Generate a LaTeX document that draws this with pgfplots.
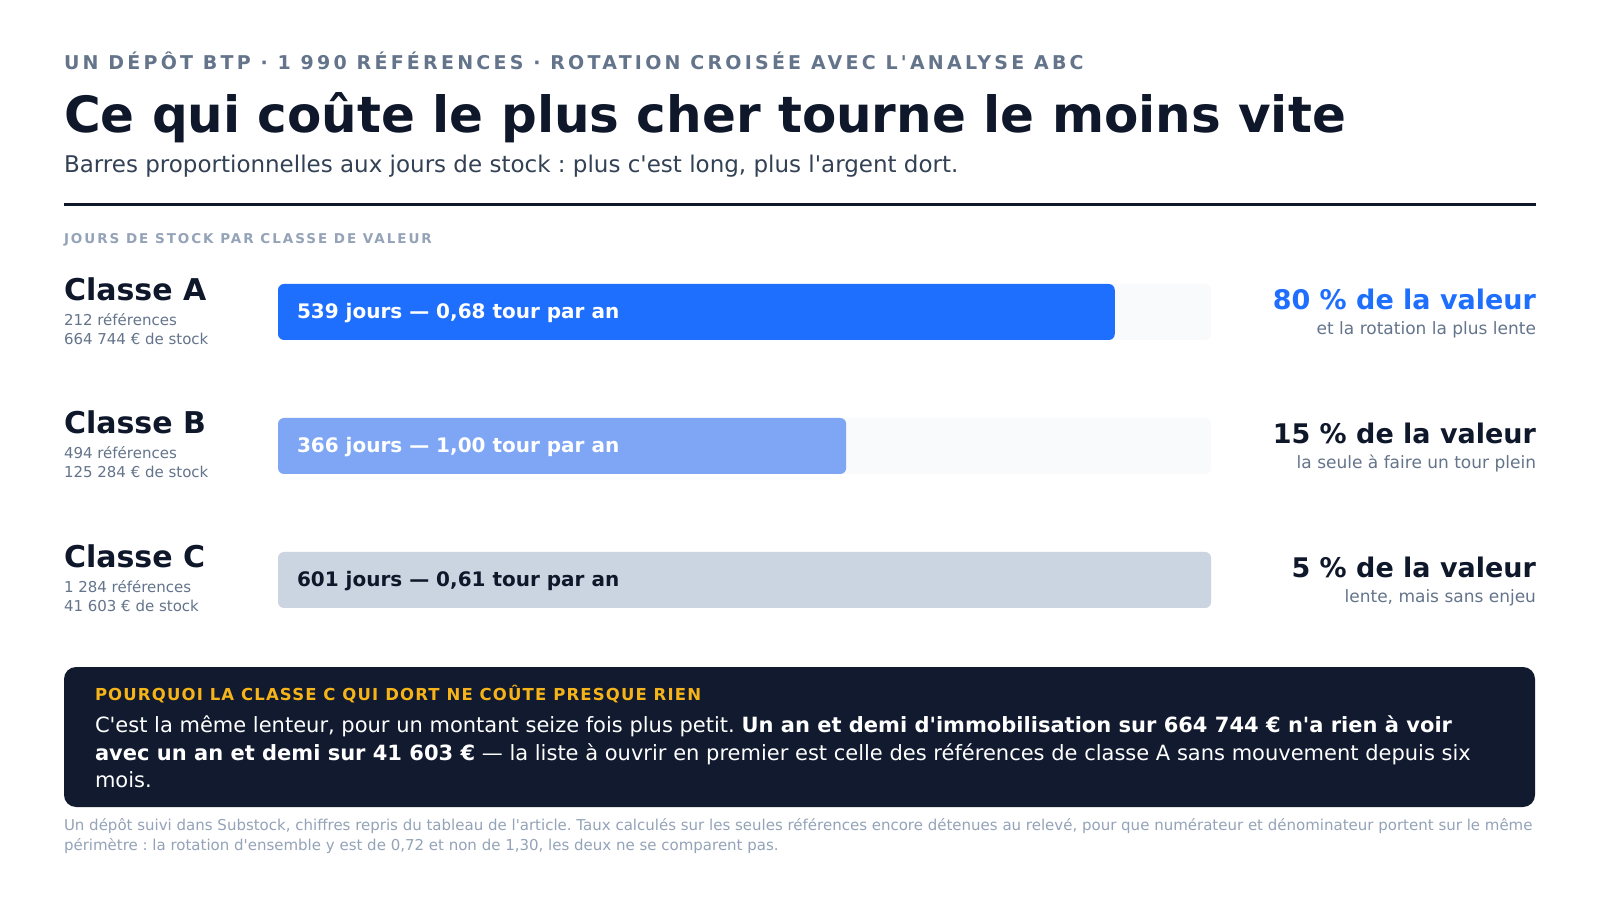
\documentclass[border=0pt]{standalone}
\usepackage{fontspec}
\setmainfont{DejaVu Sans}[Ligatures=TeXOff]
\newfontfamily\kickerfont{DejaVu Sans}[LetterSpace=17,Ligatures=TeXOff]
\newfontfamily\sectfont{DejaVu Sans}[LetterSpace=14.5,Ligatures=TeXOff]
\newfontfamily\boxheadfont{DejaVu Sans}[LetterSpace=7,Ligatures=TeXOff]
\usepackage{pgfplots}
\pgfplotsset{compat=1.18}
\definecolor{ink}{HTML}{0F172A}
\definecolor{slatefive}{HTML}{64748B}
\definecolor{slateseven}{HTML}{334155}
\definecolor{slatefour}{HTML}{94A3B8}
\definecolor{barA}{HTML}{1F6FFF}
\definecolor{barB}{HTML}{7EA6F4}
\definecolor{barC}{HTML}{CBD5E1}
\definecolor{track}{HTML}{F8FAFC}
\definecolor{boxbg}{HTML}{111A2E}
\definecolor{amber}{HTML}{F7B419}
\newcommand{\fs}[1]{\fontsize{#1}{#1}\selectfont}
\frenchspacing
\begin{document}
\begin{tikzpicture}[x=1pt,y=1pt,every node/.style={inner sep=0pt,outer sep=0pt,font=\frenchspacing}]
\fill[white] (0,0) rectangle (1600,900);
\useasboundingbox (0,0) rectangle (1600,900);
% header
\node[anchor=base west,text=slatefive] at (64,830) {\kickerfont\bfseries\fs{19}UN DÉPÔT BTP · 1 990 RÉFÉRENCES · ROTATION CROISÉE AVEC L'ANALYSE ABC};
\node[anchor=base west,text=ink] at (64,767) {\bfseries\fs{50}Ce qui coûte le plus cher tourne le moins vite};
\node[anchor=base west,text=slateseven] at (64,727) {\fs{23}Barres proportionnelles aux jours de stock : plus c'est long, plus l'argent dort.};
\draw[ink,line width=3pt] (64,695) -- (1536,695);
\node[anchor=base west,text=slatefour] at (64,656) {\sectfont\bfseries\fs{13.5}JOURS DE STOCK PAR CLASSE DE VALEUR};
% bars
\begin{axis}[
  at={(278pt,253pt)}, anchor=south west,
  scale only axis, width=933pt, height=402pt,
  xmin=0, xmax=601, ymin=-0.5, ymax=2.5,
  hide axis, clip=false,
  xbar, bar width=56pt, bar shift=0pt,
]
\addplot[fill=track,draw=none,rounded corners=6pt] coordinates {(601,2) (601,1) (601,0)};
\addplot[fill=barA,draw=none,rounded corners=6pt] coordinates {(539,2)};
\addplot[fill=barB,draw=none,rounded corners=6pt] coordinates {(366,1)};
\addplot[fill=barC,draw=none,rounded corners=6pt] coordinates {(601,0)};
\node[anchor=base west,text=white,xshift=19pt,yshift=-7pt] at (axis cs:0,2) {\bfseries\fs{20}539 jours — 0,68 tour par an};
\node[anchor=base west,text=white,xshift=19pt,yshift=-7pt] at (axis cs:0,1) {\bfseries\fs{20}366 jours — 1,00 tour par an};
\node[anchor=base west,text=ink,xshift=19pt,yshift=-7pt] at (axis cs:0,0) {\bfseries\fs{20}601 jours — 0,61 tour par an};
\end{axis}
% left labels
\node[anchor=base west,text=ink] at (64,599) {\bfseries\fs{30}Classe A};
\node[anchor=base west,text=slatefive] at (64,574) {\fs{15}212 références};
\node[anchor=base west,text=slatefive] at (64,555) {\fs{15}664 744 € de stock};
\node[anchor=base west,text=ink] at (64,466) {\bfseries\fs{30}Classe B};
\node[anchor=base west,text=slatefive] at (64,441) {\fs{15}494 références};
\node[anchor=base west,text=slatefive] at (64,422) {\fs{15}125 284 € de stock};
\node[anchor=base west,text=ink] at (64,332) {\bfseries\fs{30}Classe C};
\node[anchor=base west,text=slatefive] at (64,307) {\fs{15}1 284 références};
\node[anchor=base west,text=slatefive] at (64,288) {\fs{15}41 603 € de stock};
% right labels
\node[anchor=base east,text=barA] at (1536,590) {\bfseries\fs{27}80 \% de la valeur};
\node[anchor=base east,text=slatefive] at (1536,565) {\fs{17}et la rotation la plus lente};
\node[anchor=base east,text=ink] at (1536,456) {\bfseries\fs{27}15 \% de la valeur};
\node[anchor=base east,text=slatefive] at (1536,431) {\fs{17}la seule à faire un tour plein};
\node[anchor=base east,text=ink] at (1536,322) {\bfseries\fs{27}5 \% de la valeur};
\node[anchor=base east,text=slatefive] at (1536,297) {\fs{17}lente, mais sans enjeu};
% dark box
\fill[boxbg,rounded corners=12pt] (64,93) rectangle (1535,233);
\node[anchor=base west,text=amber] at (95,200) {\boxheadfont\bfseries\fs{16.5}POURQUOI LA CLASSE C QUI DORT NE COÛTE PRESQUE RIEN};
\node[anchor=base west,text=white] at (95,168) {\fs{21}C'est la même lenteur, pour un montant seize fois plus petit. \textbf{Un an et demi d'immobilisation sur 664 744 € n'a rien à voir}};
\node[anchor=base west,text=white] at (95,140) {\fs{21}\textbf{avec un an et demi sur 41 603 €} — la liste à ouvrir en premier est celle des références de classe A sans mouvement depuis six};
\node[anchor=base west,text=white] at (95,113) {\fs{21}mois.};
% footnote
\node[anchor=base west,text=slatefour] at (64,70) {\fs{15}Un dépôt suivi dans Substock, chiffres repris du tableau de l'article. Taux calculés sur les seules références encore détenues au relevé, pour que numérateur et dénominateur portent sur le même};
\node[anchor=base west,text=slatefour] at (64,50) {\fs{15}périmètre : la rotation d'ensemble y est de 0,72 et non de 1,30, les deux ne se comparent pas.};
\end{tikzpicture}
\end{document}
